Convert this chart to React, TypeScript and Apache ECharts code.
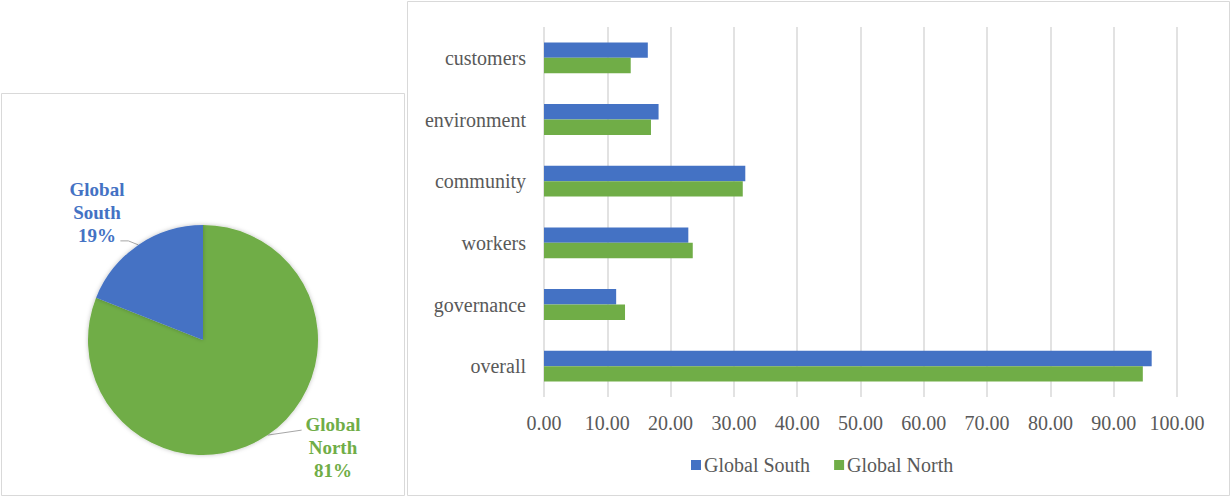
import React, { useEffect, useRef } from "react";
import * as echarts from "echarts";

const categories = ["customers", "environment", "community", "workers", "governance", "overall"];
const southValues = [16.4, 18.1, 31.8, 22.8, 11.4, 96.0];
const northValues = [13.7, 16.9, 31.4, 23.5, 12.8, 94.6];
const seriesNames = ["Global South", "Global North"];
const pieNames = ["Global North", "Global South"];
const pieValues = [81, 19];
const xTicks = { min: 0, max: 100, interval: 10 };

const BLUE = "#4472C4";
const GREEN = "#70AD47";
const GREY_TEXT = "#595959";
const GRID = "#D9D9D9";
const FONT = "'Liberation Serif', 'Times New Roman', serif";

export default function App() {
  const ref = useRef<HTMLDivElement>(null);
  useEffect(() => {
    if (!ref.current) return;
    const chart = echarts.init(ref.current, undefined, { renderer: "svg" });
    const pieColors: Record<string, string> = { "Global North": GREEN, "Global South": BLUE };
    chart.setOption({
      animation: false,
      textStyle: { fontFamily: FONT },
      graphic: [
        { type: "rect", shape: { x: 1.5, y: 93.5, width: 403, height: 402 }, style: { fill: "none", stroke: GRID, lineWidth: 1 }, silent: true },
        { type: "rect", shape: { x: 407.5, y: 1.5, width: 822, height: 494 }, style: { fill: "none", stroke: GRID, lineWidth: 1 }, silent: true },
      ],
      legend: {
        data: seriesNames,
        left: 686,
        top: 450,
        icon: "rect",
        itemWidth: 10,
        itemHeight: 10,
        itemGap: 24,
        itemStyle: { borderWidth: 0 },
        textStyle: { fontFamily: FONT, fontSize: 20, color: GREY_TEXT, padding: [0, 0, 0, -2] },
      },
      grid: { left: 544, right: 54, top: 27, bottom: 100, containLabel: false },
      xAxis: {
        type: "value",
        min: xTicks.min,
        max: xTicks.max,
        interval: xTicks.interval,
        axisLine: { show: false },
        axisTick: { show: false },
        axisLabel: {
          formatter: (v: number) => v.toFixed(2),
          fontFamily: FONT,
          fontSize: 20,
          color: GREY_TEXT,
          margin: 16,
        },
        splitLine: { show: true, lineStyle: { color: GRID, width: 1.5 } },
      },
      yAxis: {
        type: "category",
        data: categories,
        inverse: true,
        axisLine: { show: false },
        axisTick: { show: false },
        axisLabel: { fontFamily: FONT, fontSize: 20, color: GREY_TEXT, margin: 18 },
      },
      series: [
        {
          name: seriesNames[0],
          type: "bar",
          data: southValues,
          itemStyle: { color: BLUE },
          barGap: "0%",
          barCategoryGap: "50%",
        },
        {
          name: seriesNames[1],
          type: "bar",
          data: northValues,
          itemStyle: { color: GREEN },
          barGap: "0%",
          barCategoryGap: "50%",
        },
        {
          name: "share",
          type: "pie",
          center: [203, 340],
          radius: 115,
          startAngle: 90,
          clockwise: true,
          legendHoverLink: false,
          data: pieNames.map((n, i) => ({
            name: n,
            value: pieValues[i],
            itemStyle: { color: pieColors[n] },
            label: { color: pieColors[n] },
          })),
          itemStyle: { borderWidth: 0, shadowBlur: 4, shadowColor: "rgba(0,0,0,0.25)" },
          label: {
            show: true,
            position: "outside",
            formatter: (p: any) => p.name.replace(" ", "\n") + "\n" + Math.round(p.percent) + "%",
            fontFamily: FONT,
            fontSize: 19,
            fontWeight: "bold",
            lineHeight: 23,
            align: "center",
          },
          labelLine: { show: true, length: 10, length2: 10, lineStyle: { color: "#A6A6A6", width: 1 } },
          labelLayout: (params: any) => {
            const pts = params.labelLinePoints;
            const p0 = pts && pts[0];
            if (params.dataIndex === 0) {
              const res: any = { x: 333, y: 447, align: "center", verticalAlign: "middle" };
              if (p0) res.labelLinePoints = [p0, [p0[0] + 34, p0[1] - 5]];
              return res;
            }
            const res: any = { x: 97, y: 212, align: "center", verticalAlign: "middle" };
            if (p0) res.labelLinePoints = [p0, [p0[0] - 10, p0[1] - 4], [p0[0] - 18, p0[1] - 4]];
            return res;
          },
        },
      ],
    });
    return () => chart.dispose();
  }, []);
  return (
    <div
      ref={ref}
      style={{ position: "fixed", left: 0, top: 0, width: 1231, height: 497, background: "#fff" }}
    />
  );
}
